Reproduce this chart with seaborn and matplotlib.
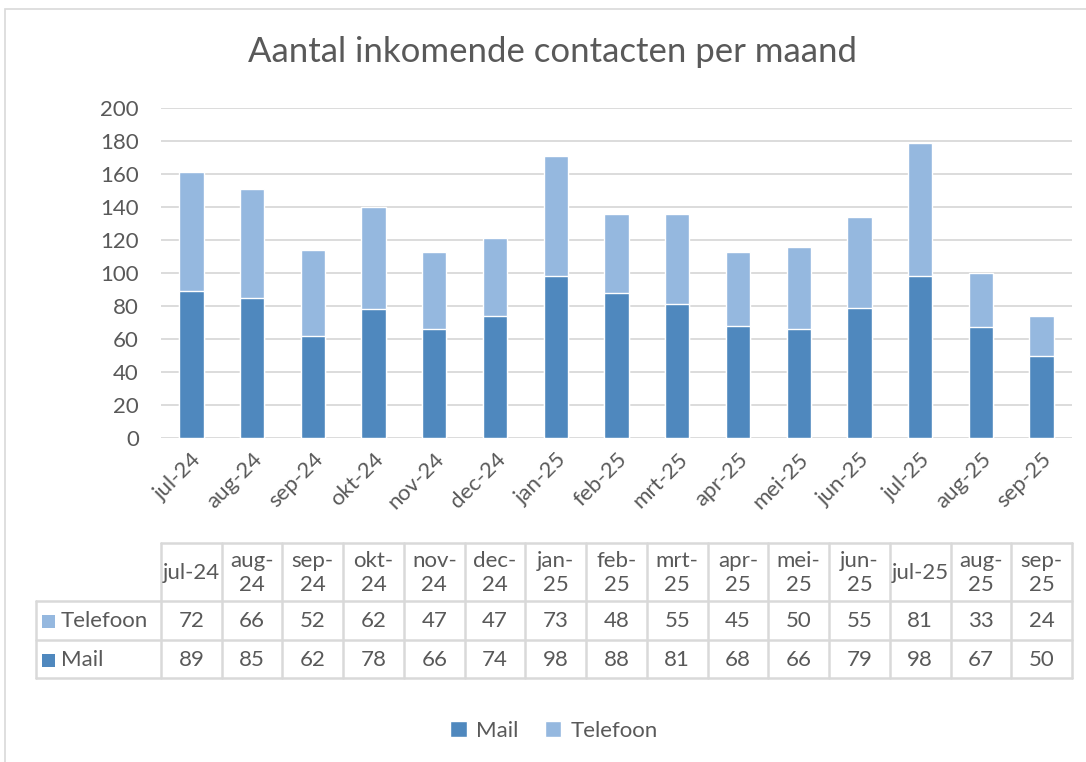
import numpy as np
import pandas as pd
import matplotlib.pyplot as plt
import seaborn as sns
from matplotlib.patches import Rectangle, Patch

# Data
months = ['jul-24', 'aug-24', 'sep-24', 'okt-24', 'nov-24', 'dec-24', 'jan-25', 'feb-25',
          'mrt-25', 'apr-25', 'mei-25', 'jun-25', 'jul-25', 'aug-25', 'sep-25']
telefoon = [72, 66, 52, 62, 47, 47, 73, 48, 55, 45, 50, 55, 81, 33, 24]
mail = [89, 85, 62, 78, 66, 74, 98, 88, 81, 68, 66, 79, 98, 67, 50]
y_ticks = [0, 20, 40, 60, 80, 100, 120, 140, 160, 180, 200]

mail_color = '#4F88BE'
tel_color = '#95B8DF'
text_color = '#595959'
grid_color = '#D9D9D9'

sns.set_style('white')
plt.rcParams['font.family'] = ['Lato', 'DejaVu Sans']

df = pd.DataFrame({'maand': months, 'Mail': mail, 'Telefoon': telefoon})
df['Totaal'] = df['Mail'] + df['Telefoon']

W, H = 1086, 762
fs = 16
fig = plt.figure(figsize=(W / 100, H / 100), dpi=100)

# outer chart border
fig.patches.append(Rectangle((5 / W, -0.1), 1.2, 1 - 9 / H + 0.1, transform=fig.transFigure,
                             fill=False, edgecolor=grid_color, linewidth=1.2))

ax = fig.add_axes([161 / W, 1 - 438 / H, 911 / W, 330 / H])

# stacked bars: total first (Telefoon on top), then Mail
sns.barplot(data=df, x='maand', y='Totaal', color=tel_color, width=0.4,
            saturation=1, ax=ax, zorder=3)
sns.barplot(data=df, x='maand', y='Mail', color=mail_color, width=0.4,
            saturation=1, ax=ax, zorder=3)

ax.set_ylim(0, 200)
ax.set_xlim(-0.5, len(months) - 0.5)
ax.set_yticks(y_ticks)
ax.yaxis.grid(True, color=grid_color, linewidth=1.3, zorder=0)
ax.set_axisbelow(True)
for s in ax.spines.values():
    s.set_visible(False)
ax.set_xlabel('')
ax.set_ylabel('')
ax.tick_params(axis='both', length=0, labelsize=fs, labelcolor=text_color)
ax.tick_params(axis='y', pad=16)
ax.set_xticks(range(len(months)))
ax.set_xticklabels(months, rotation=45, ha='right', rotation_mode='anchor')
ax.tick_params(axis='x', pad=8)

fig.text(0.509, 1 - 52 / H, 'Aantal inkomende contacten per maand', ha='center', va='center',
         fontsize=25, color=text_color)

# data table underneath
tax = fig.add_axes([36 / W, 1 - 678 / H, 1036 / W, 135 / H])
col_w = 911 / len(months)
lab_w = 125 / col_w
tax.set_xlim(-0.5 - lab_w, len(months) - 0.5)
tax.set_ylim(678, 543)
tax.axis('off')

lkw = dict(color=grid_color, linewidth=1.8, clip_on=False)
tax.plot([-0.5, len(months) - 0.5], [543, 543], **lkw)
for yy in [601, 640, 678]:
    tax.plot([-0.5 - lab_w, len(months) - 0.5], [yy, yy], **lkw)
tax.plot([-0.5 - lab_w] * 2, [601, 678], **lkw)
for i in range(len(months) + 1):
    tax.plot([i - 0.5] * 2, [543, 678], **lkw)

headers = [m if m.startswith('jul') else m.replace('-', '-\n') for m in months]
for i, h in enumerate(headers):
    tax.text(i, 573, h, ha='center', va='center', fontsize=fs, color=text_color,
             linespacing=1.25)
for i in range(len(months)):
    tax.text(i, 621, str(telefoon[i]), ha='center', va='center', fontsize=fs, color=text_color)
    tax.text(i, 660, str(mail[i]), ha='center', va='center', fontsize=fs, color=text_color)

sq = 13 / col_w
x_sq = (42 - 161) / col_w - 0.5
x_lab = (61 - 161) / col_w - 0.5
for yc, name, c in [(621, 'Telefoon', tel_color), (660, 'Mail', mail_color)]:
    tax.add_patch(Rectangle((x_sq, yc - 6.5), sq, 13, facecolor=c, edgecolor='none', clip_on=False))
    tax.text(x_lab, yc, name, ha='left', va='center', fontsize=fs, color=text_color)

# legend
handles = [Patch(facecolor=mail_color, label='Mail'), Patch(facecolor=tel_color, label='Telefoon')]
fig.legend(handles=handles, loc='center', bbox_to_anchor=(0.51, 1 - 731 / H), ncol=2,
           frameon=False, fontsize=fs, labelcolor=text_color, handlelength=0.75,
           handleheight=0.75, handletextpad=0.4, columnspacing=1.2)

fig.savefig('out.png', dpi=100)
